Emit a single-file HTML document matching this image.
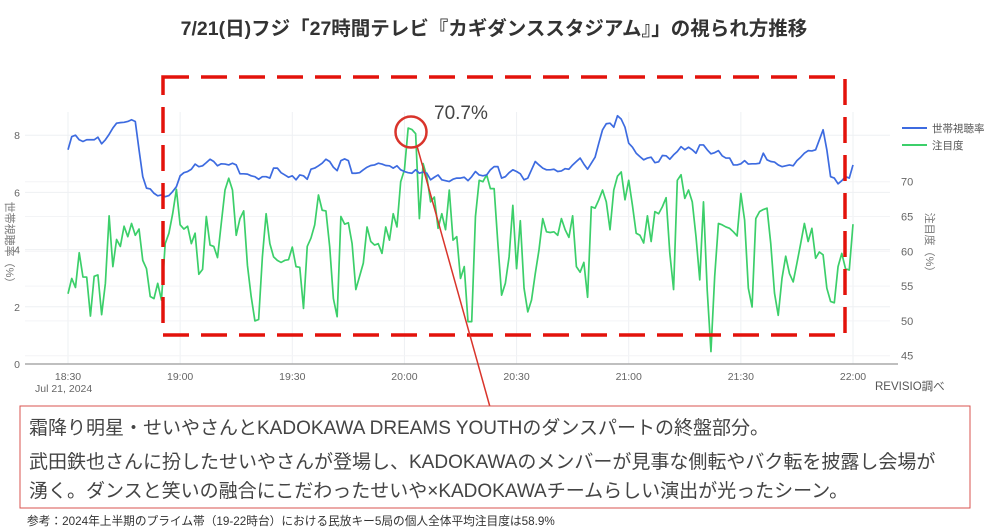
<!DOCTYPE html>
<html><head><meta charset="utf-8">
<style>
body{margin:0;width:989px;height:532px;background:#fff;overflow:hidden;font-family:"Liberation Sans","Noto Sans CJK JP",sans-serif;}
svg{display:block}
.t{font-family:"Liberation Sans","Noto Sans CJK JP",sans-serif;}
</style></head>
<body>
<svg id="chart" width="989" height="532">
<text class="t" x="494" y="35" text-anchor="middle" font-size="19.5" font-weight="bold" fill="#333">7/21(日)フジ「27時間テレビ『カギダンススタジアム』」の視られ方推移</text>
<g id="grid"></g>
<g id="axes"></g>
<g id="series"></g>
<rect x="163" y="77" width="682" height="258" fill="none" stroke="#e3120b" stroke-width="3.5" stroke-dasharray="26,12"/>
<circle cx="411" cy="132" r="15.5" fill="none" stroke="#d9342b" stroke-width="2.5"/>
<text class="t" x="434" y="119" font-size="19" fill="#444">70.7%</text>
<line x1="417" y1="146" x2="490" y2="407" stroke="#d9342b" stroke-width="1.5"/>
<g>
<line x1="902" y1="128" x2="927" y2="128" stroke="#3d6be0" stroke-width="2"/>
<text class="t" x="932" y="132" font-size="10.5" fill="#555">世帯視聴率</text>
<line x1="902" y1="145" x2="927" y2="145" stroke="#3ccf6a" stroke-width="2"/>
<text class="t" x="932" y="149" font-size="10.5" fill="#555">注目度</text>
</g>
<text class="t" transform="translate(6,245) rotate(90)" text-anchor="middle" font-size="11" fill="#777">世帯視聴率（%）</text>
<text class="t" transform="translate(926,245) rotate(90)" text-anchor="middle" font-size="11" fill="#777">注目度（%）</text>
<text class="t" x="875" y="390" font-size="11.5" fill="#555">REVISIO調べ</text>
<text class="t" x="35" y="392" font-size="10.5" fill="#666">Jul 21, 2024</text>
<rect x="20" y="406" width="950" height="102" fill="#fff" stroke="#d9534f" stroke-width="1"/>
<text class="t" x="29" y="434" font-size="19" fill="#444">霜降り明星・せいやさんとKADOKAWA DREAMS YOUTHのダンスパートの終盤部分。</text>
<text class="t" x="29" y="468" font-size="19" fill="#444">武田鉄也さんに扮したせいやさんが登場し、KADOKAWAのメンバーが見事な側転やバク転を披露し会場が</text>
<text class="t" x="29" y="497" font-size="19" fill="#444">湧く。ダンスと笑いの融合にこだわったせいや×KADOKAWAチームらしい演出が光ったシーン。</text>
<text class="t" x="27" y="525" font-size="11.7" fill="#333">参考：2024年上半期のプライム帯（19-22時台）における民放キー5局の個人全体平均注目度は58.9%</text>
</svg>
<script>
const xTickLabels=["18:30","19:00","19:30","20:00","20:30","21:00","21:30","22:00"];
const xTickMinutes=[0,30,60,90,120,150,180,210];
const leftTicks=[0,2,4,6,8];
const rightTicks=[45,50,55,60,65,70];
const rating=[7.49,7.95,8.0,7.84,7.78,7.84,7.84,7.84,7.93,7.70,
7.84,8.03,8.25,8.42,8.44,8.45,8.48,8.54,8.48,7.49,
6.55,6.15,6.12,5.97,5.88,5.91,5.85,5.89,6.03,6.20,
6.58,6.69,6.73,6.81,6.99,6.90,6.93,7.04,7.16,7.08,
6.93,7.00,6.99,6.96,7.02,6.96,6.65,6.65,6.64,6.58,
6.55,6.46,6.55,6.55,6.50,6.85,6.85,6.69,6.61,6.53,
6.58,6.44,6.61,6.58,6.46,6.81,6.85,6.93,7.02,7.16,
7.08,6.88,6.76,7.11,7.17,7.11,6.67,6.67,6.69,6.79,
6.88,6.94,6.96,7.02,6.99,6.94,6.93,6.85,6.93,6.79,
6.73,6.69,6.67,6.79,6.67,6.71,6.67,6.44,6.53,6.61,
6.44,6.41,6.38,6.46,6.50,6.50,6.53,6.41,6.55,6.73,
6.61,6.58,6.61,6.79,6.90,6.90,6.50,6.55,6.69,6.79,
6.73,6.65,6.44,6.50,6.79,7.08,6.96,6.85,6.79,6.79,
6.81,6.73,6.75,6.83,6.81,6.96,7.08,7.20,6.99,6.81,
7.02,7.23,7.72,8.19,8.40,8.42,8.28,8.68,8.56,8.28,
7.72,7.58,7.37,7.25,7.14,7.20,7.23,7.04,7.07,7.29,
7.28,7.16,7.31,7.43,7.60,7.49,7.58,7.49,7.37,7.66,
7.66,7.49,7.35,7.39,7.46,7.28,7.20,7.20,6.96,6.96,
7.00,7.11,6.99,7.00,7.00,7.02,7.37,7.14,7.08,7.06,
6.96,6.90,6.93,6.96,6.93,7.11,7.23,7.37,7.46,7.45,
7.49,7.84,8.19,7.49,6.55,6.50,6.30,6.41,6.55,6.50,
6.96];
const attention=[53.9,56.1,54.8,59.8,56.3,56.3,50.7,56.4,56.6,50.9,
55.4,65.1,57.8,61.7,60.7,63.6,62.1,64.0,62.3,63.2,
58.7,57.5,53.5,53.2,55.4,53.0,61.1,62.6,65.4,68.9,
63.8,63.2,63.6,61.1,62.6,56.7,57.4,65.0,60.9,60.7,
59.1,64.0,68.8,70.5,68.8,62.3,64.7,65.8,58.0,53.5,
50.0,50.2,59.2,65.4,61.1,59.2,58.7,58.4,58.7,58.8,
60.6,57.8,57.7,51.8,60.7,61.9,63.8,68.1,65.9,65.8,
60.7,53.2,50.6,65.0,63.9,64.1,61.1,54.5,56.4,58.3,
63.5,61.4,60.9,61.1,59.7,63.5,61.6,65.4,63.5,70.0,
71.7,77.7,77.5,76.9,64.7,72.6,70.7,67.1,67.8,63.3,
65.4,63.1,68.8,61.6,62.1,56.1,57.8,49.9,49.9,65.0,
70.2,70.0,71.0,69.0,69.0,61.1,53.7,55.4,59.2,66.6,
57.5,64.4,54.7,51.3,53.0,56.8,60.2,64.7,62.8,62.7,
62.8,62.3,64.7,63.1,62.0,65.1,57.8,57.0,58.4,53.4,
66.4,66.2,67.4,68.8,67.1,63.1,68.8,70.8,71.4,67.4,
70.2,66.6,62.6,62.3,61.2,65.1,61.4,65.7,65.4,66.4,
67.7,59.7,54.5,70.2,71.0,67.6,68.8,67.1,62.1,55.9,
67.1,54.4,45.6,56.4,64.0,63.8,63.5,63.3,62.8,62.2,
68.3,64.5,54.7,52.0,64.7,65.7,66.0,66.2,61.1,54.0,
50.8,56.1,59.3,56.8,55.6,58.3,61.1,64.0,61.4,63.3,
59.0,59.9,59.5,54.7,52.8,52.6,57.8,59.7,57.5,57.3,
63.9];

const NS="http://www.w3.org/2000/svg";
const X0=68,X1=853,T1=210;
const x=m=>X0+(X1-X0)*m/T1;
const yL=v=>364-v*28.6;
const yR=v=>355.7-(v-45)*6.96;
function mk(tag,attrs,parent){const e=document.createElementNS(NS,tag);for(const k in attrs)e.setAttribute(k,attrs[k]);parent.appendChild(e);return e;}
const grid=document.getElementById('grid'),axes=document.getElementById('axes'),series=document.getElementById('series');
xTickMinutes.forEach((m,i)=>{
  const g=mk('line',{x1:x(m),x2:x(m),y1:112,y2:364,stroke:'#eef0f3','stroke-width':1},grid);
  
  
  const t=mk('text',{x:x(m),y:380,'text-anchor':'middle','font-size':10.5,fill:'#666',class:'t'},axes);
  t.textContent=xTickLabels[i];
  
  
});
leftTicks.forEach(v=>{
  const g=mk('line',{x1:25,x2:890,y1:yL(v),y2:yL(v),stroke:'#eef0f3','stroke-width':1},grid);
  
  
  const t=mk('text',{x:17,y:yL(v)+4,'text-anchor':'middle','font-size':10.5,fill:'#666',class:'t'},axes);
  t.textContent=v;
  
  
});
rightTicks.forEach(v=>{
  const g=mk('line',{x1:25,x2:890,y1:yR(v),y2:yR(v),stroke:'#f3f4f6','stroke-width':1},grid);
  
  
  const t=mk('text',{x:901,y:yR(v)+4,'font-size':11,fill:'#666',class:'t'},axes);
  t.textContent=v;
  
  
});
const ax=mk('line',{x1:25,x2:898,y1:364,y2:364,stroke:'#aaa','stroke-width':1.5},axes);


const pa=mk('polyline',{points:attention.map((v,i)=>x(i)+','+yR(v)).join(' '),fill:'none',stroke:'#3ccf6a','stroke-width':1.7,'stroke-linejoin':'round'},series);


const pr=mk('polyline',{points:rating.map((v,i)=>x(i)+','+yL(v)).join(' '),fill:'none',stroke:'#3d6be0','stroke-width':1.7,'stroke-linejoin':'round'},series);


</script>
</body></html>
